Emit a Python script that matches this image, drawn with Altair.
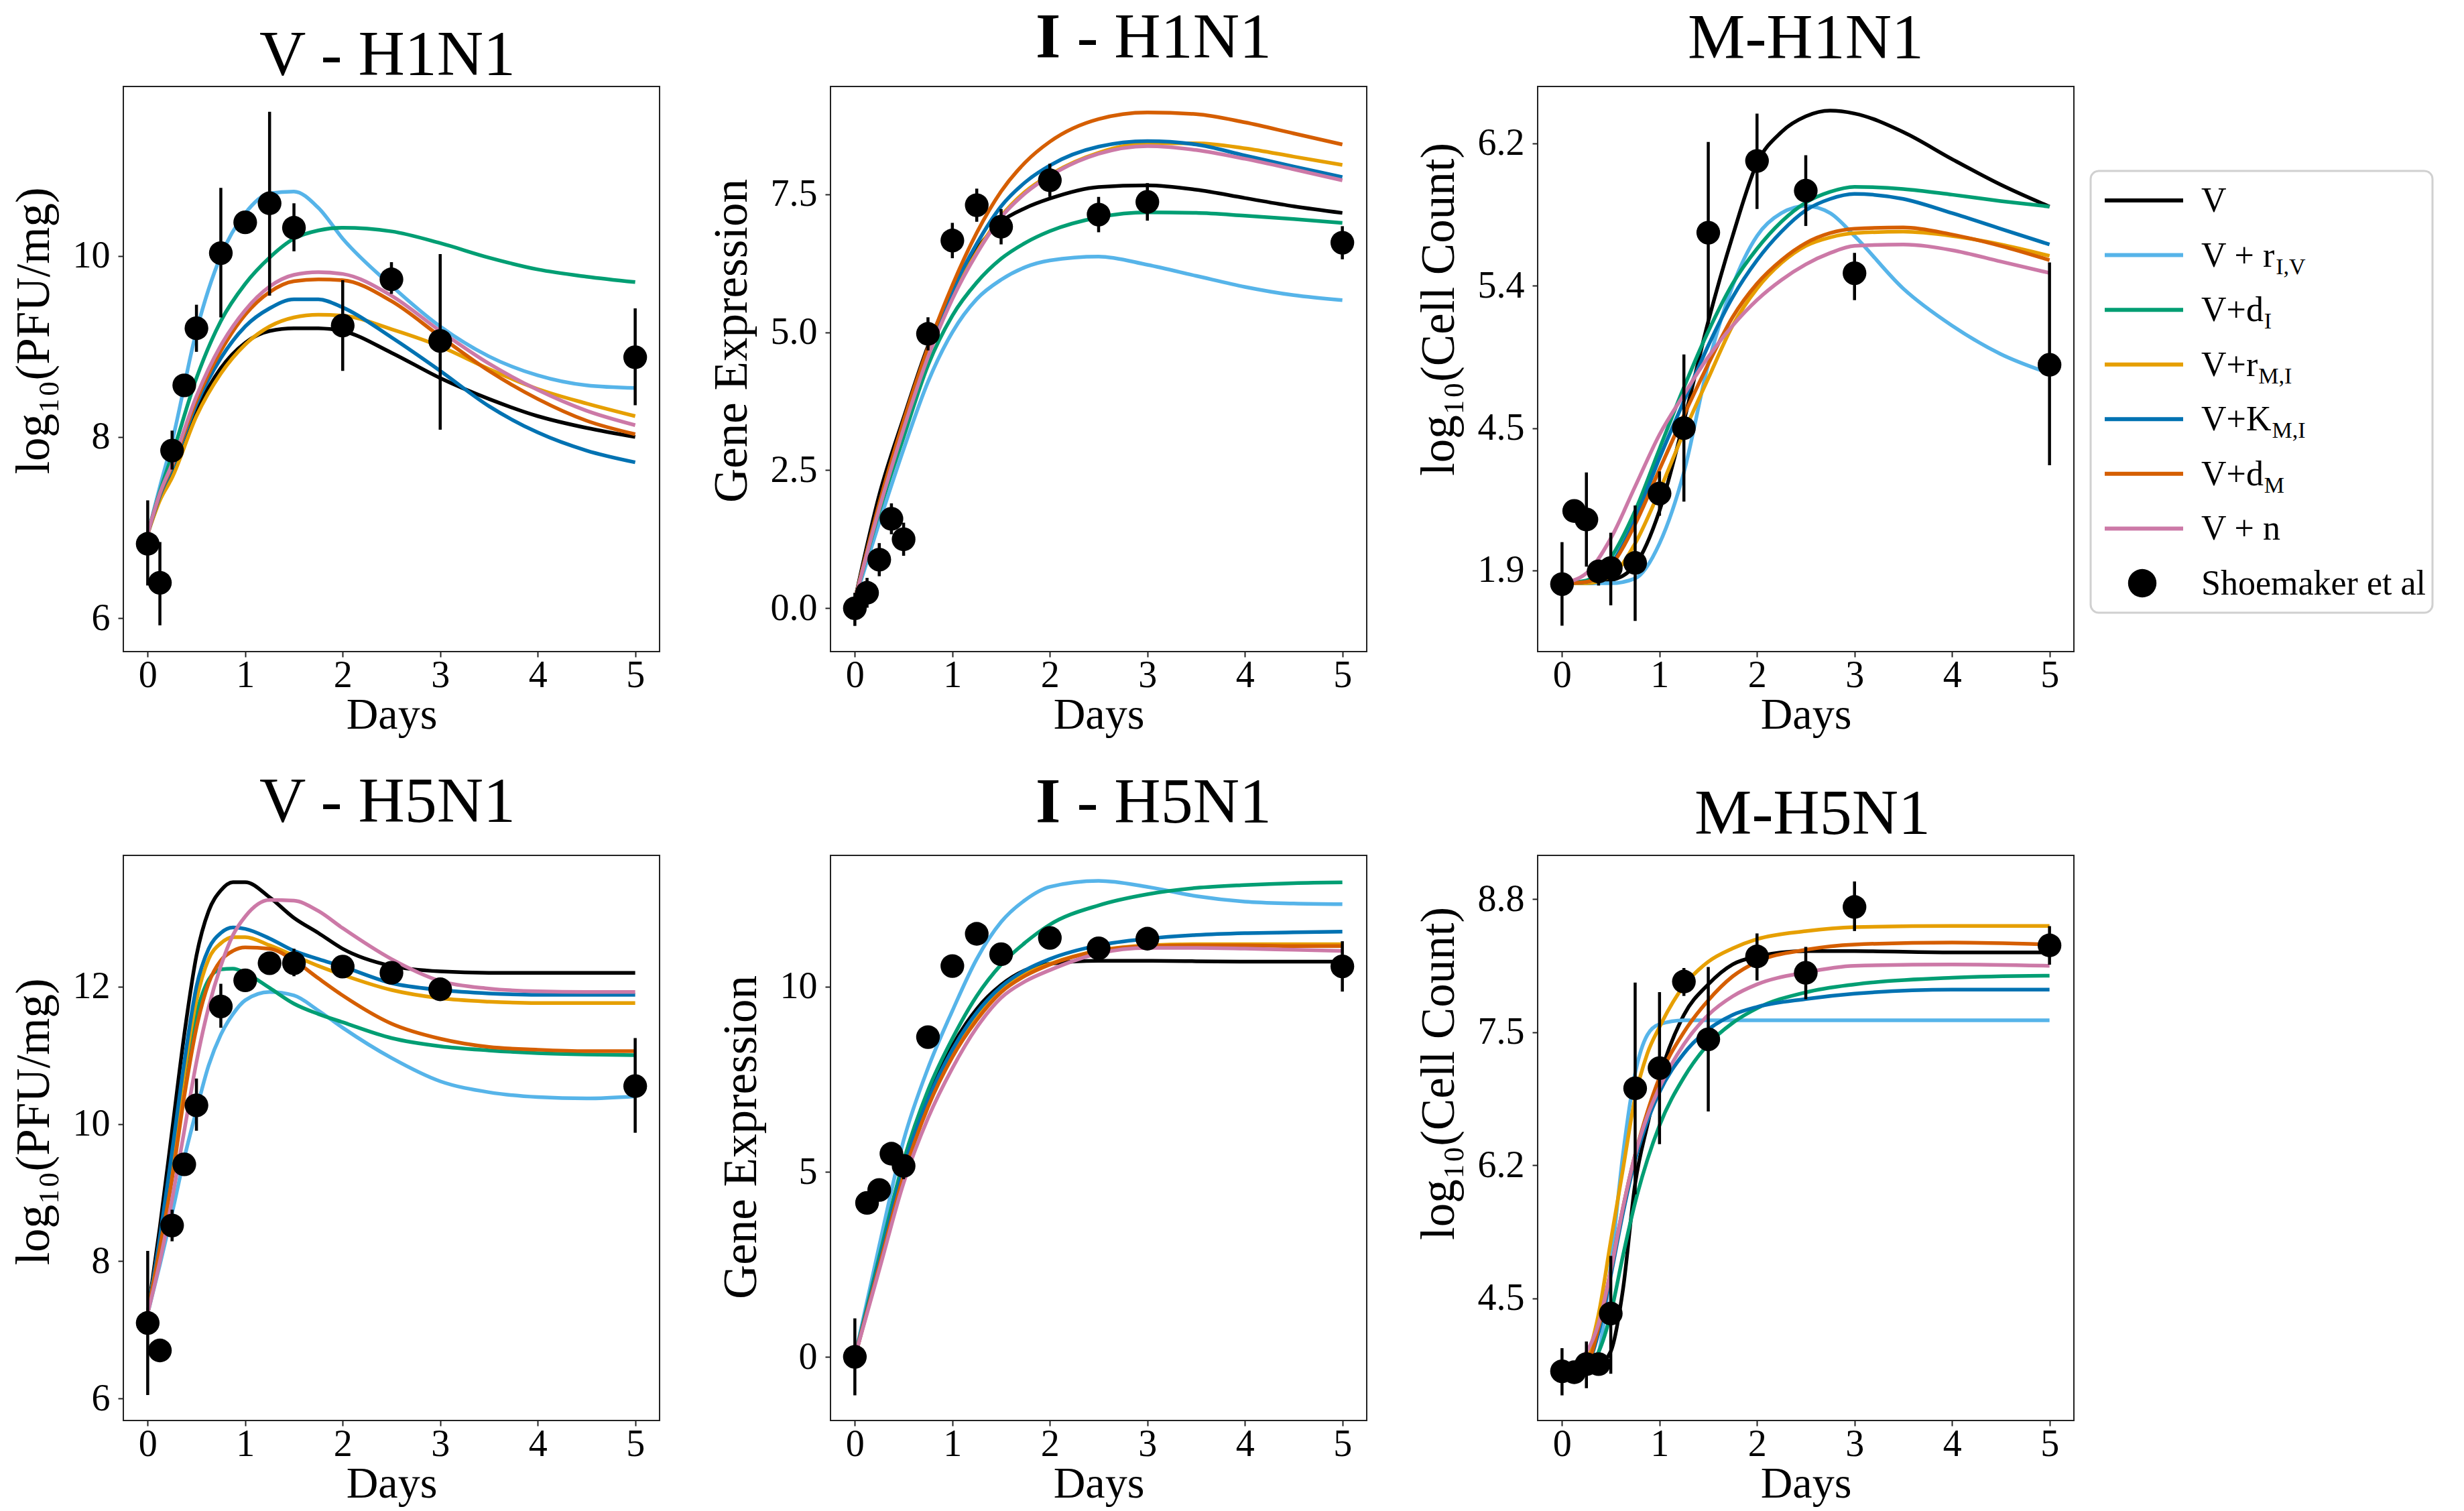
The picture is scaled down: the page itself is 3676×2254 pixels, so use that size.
import altair as alt
import pandas as pd

SERIF = "Liberation Serif"

# ---------------- shared data ----------------
MODELS = ["V", "V + rI,V", "V+dI", "V+rM,I", "V+KM,I", "V+dM", "V + n"]
COLORS = ["#000000", "#56B4E9", "#009E73", "#E69F00", "#0072B2", "#D55E00", "#CC79A7"]
OBS_T = [0, 0.125, 0.25, 0.375, 0.5, 0.75, 1, 1.25, 1.5, 2, 2.5, 3, 5]
X_TICKS = [0, 1, 2, 3, 4, 5]
X_DOMAIN = [-0.25, 5.25]
TITLES = ["V - H1N1", "I - H1N1", "M-H1N1", "V - H5N1", "I - H5N1", "M-H5N1"]
Y_TITLES = ["log\u2081\u2080(PFU/mg)", "Gene Expression", "log\u2081\u2080(Cell Count)"]

# ---------------- V - H1N1 ----------------
V1_T = [0, 0.125, 0.25, 0.5, 0.75, 1, 1.25, 1.5, 1.75, 2, 2.5, 3, 3.5, 4, 4.5, 5]
V1_CURVES = {
    "V":        [6.93, 7.35, 7.62, 8.29, 8.76, 9.04, 9.17, 9.20, 9.20, 9.17, 8.93, 8.65, 8.42, 8.23, 8.10, 8.00],
    "V + rI,V": [6.93, 7.45, 7.95, 9.17, 10.00, 10.47, 10.69, 10.71, 10.53, 10.19, 9.67, 9.22, 8.89, 8.68, 8.57, 8.54],
    "V+dI":     [6.93, 7.40, 7.80, 8.65, 9.28, 9.69, 9.98, 10.19, 10.28, 10.31, 10.27, 10.14, 9.98, 9.85, 9.77, 9.71],
    "V+rM,I":   [6.93, 7.30, 7.55, 8.23, 8.70, 9.02, 9.22, 9.32, 9.35, 9.34, 9.19, 9.00, 8.75, 8.53, 8.37, 8.23],
    "V+KM,I":   [6.93, 7.35, 7.65, 8.36, 8.87, 9.22, 9.42, 9.52, 9.52, 9.43, 9.10, 8.73, 8.34, 8.05, 7.85, 7.72],
    "V+dM":     [6.93, 7.37, 7.68, 8.40, 8.95, 9.35, 9.60, 9.72, 9.74, 9.73, 9.50, 9.11, 8.73, 8.42, 8.18, 8.03],
    "V + n":    [6.93, 7.38, 7.70, 8.45, 9.01, 9.40, 9.66, 9.79, 9.82, 9.80, 9.56, 9.17, 8.81, 8.52, 8.29, 8.13],
}
V1_OBS = [6.82, 6.39, 7.85, 8.57, 9.20, 10.03, 10.37, 10.58, 10.31, 9.23, 9.74, 9.06, 8.88]
V1_LO = [6.36, 5.92, 7.64, 8.47, 8.94, 9.32, 10.37, 9.56, 10.05, 8.73, 9.58, 8.08, 8.35]
V1_HI = [7.30, 6.84, 8.07, 8.67, 9.46, 10.75, 10.37, 11.59, 10.58, 9.73, 9.93, 10.02, 9.42]
V1_YTICKS = [6, 8, 10]
V1_YDOMAIN = [5.63, 11.87]

# ---------------- I - H1N1 ----------------
I1_T = [0, 0.25, 0.5, 0.75, 1, 1.25, 1.5, 1.75, 2, 2.5, 3, 3.5, 4, 4.5, 5]
I1_CURVES = {
    "V":        [0.15, 2.05, 3.45, 4.75, 5.75, 6.50, 7.00, 7.25, 7.42, 7.63, 7.66, 7.58, 7.43, 7.28, 7.16],
    "V + rI,V": [0.15, 1.55, 2.88, 4.10, 5.00, 5.60, 5.95, 6.18, 6.30, 6.37, 6.22, 6.02, 5.82, 5.67, 5.58],
    "V+dI":     [0.15, 1.75, 3.10, 4.40, 5.30, 5.90, 6.33, 6.62, 6.83, 7.08, 7.17, 7.16, 7.11, 7.05, 6.98],
    "V+rM,I":   [0.15, 1.85, 3.30, 4.62, 5.65, 6.45, 7.10, 7.55, 7.85, 8.25, 8.42, 8.42, 8.33, 8.18, 8.03],
    "V+KM,I":   [0.15, 1.88, 3.35, 4.68, 5.75, 6.60, 7.28, 7.72, 8.02, 8.36, 8.46, 8.40, 8.20, 8.00, 7.81],
    "V+dM":     [0.15, 1.90, 3.40, 4.72, 5.85, 6.80, 7.55, 8.08, 8.45, 8.86, 8.98, 8.95, 8.80, 8.60, 8.40],
    "V + n":    [0.15, 1.80, 3.25, 4.55, 5.60, 6.42, 7.08, 7.52, 7.83, 8.23, 8.37, 8.30, 8.14, 7.95, 7.75],
}
I1_OBS = [0.0, 0.28, 0.88, 1.62, 1.25, 4.97, 6.66, 7.30, 6.91, 7.75, 7.13, 7.36, 6.62]
I1_LO = [-0.32, 0.01, 0.58, 1.34, 0.95, 4.67, 6.34, 7.00, 6.59, 7.45, 6.81, 7.02, 6.32]
I1_HI = [0.28, 0.55, 1.18, 1.90, 1.55, 5.27, 6.98, 7.60, 7.23, 8.05, 7.45, 7.70, 6.92]
I1_YTICKS = [0, 2.5, 5, 7.5]
I1_YDOMAIN = [-0.785, 9.45]

# ---------------- M - H1N1 (y in tick-index units; tick k is labelled M1_TICK_LABELS[k]) ----------------
M1_TICK_LABELS = ["1.9", "4.5", "5.4", "6.2"]
M1_T = [0, 0.25, 0.5, 0.75, 1, 1.25, 1.5, 1.75, 2, 2.25, 2.5, 2.75, 3, 3.5, 4, 4.5, 5]
M1_CURVES = {
    "V":        [-0.09, -0.09, -0.07, 0.04, 0.42, 1.05, 1.75, 2.35, 2.86, 3.08, 3.19, 3.23, 3.21, 3.08, 2.89, 2.71, 2.556],
    "V + rI,V": [-0.09, -0.09, -0.09, -0.056, 0.19, 0.69, 1.45, 2.00, 2.35, 2.51, 2.56, 2.51, 2.35, 1.98, 1.72, 1.52, 1.385],
    "V+dI":     [-0.09, -0.07, 0.09, 0.42, 0.855, 1.286, 1.68, 2.015, 2.26, 2.45, 2.585, 2.66, 2.695, 2.68, 2.64, 2.595, 2.556],
    "V+rM,I":   [-0.09, -0.09, -0.04, 0.19, 0.56, 0.97, 1.35, 1.72, 1.98, 2.16, 2.28, 2.34, 2.37, 2.38, 2.35, 2.29, 2.21],
    "V+KM,I":   [-0.09, -0.08, 0.04, 0.36, 0.79, 1.19, 1.58, 1.92, 2.18, 2.38, 2.53, 2.61, 2.645, 2.61, 2.51, 2.40, 2.29],
    "V+dM":     [-0.09, -0.08, 0.03, 0.325, 0.71, 1.09, 1.45, 1.78, 2.015, 2.18, 2.30, 2.37, 2.40, 2.41, 2.36, 2.28, 2.18],
    "V + n":    [-0.09, -0.02, 0.225, 0.59, 0.955, 1.236, 1.50, 1.72, 1.90, 2.04, 2.15, 2.23, 2.28, 2.29, 2.25, 2.17, 2.09],
}
M1_OBS = [-0.096, 0.418, 0.358, -0.007, 0.017, 0.053, 0.540, 1.000, 2.373, 2.877, 2.668, 2.088, 1.445]
M1_LO = [-0.388, 0.418, 0.027, -0.106, -0.245, -0.355, 0.384, 0.484, 1.733, 2.539, 2.420, 1.899, 0.739]
M1_HI = [0.199, 0.418, 0.689, 0.076, 0.265, 0.457, 0.696, 1.518, 3.010, 3.209, 2.917, 2.231, 2.164]
M1_YDOMAIN = [-0.57, 3.40]

# ---------------- V - H5N1 ----------------
V5_T = [0, 0.125, 0.25, 0.375, 0.5, 0.625, 0.75, 0.875, 1, 1.25, 1.5, 1.75, 2, 2.5, 3, 3.5, 4, 4.5, 5]
V5_CURVES = {
    "V":        [7.24, 8.50, 9.90, 11.30, 12.45, 13.10, 13.40, 13.52, 13.52, 13.30, 13.00, 12.78, 12.55, 12.30, 12.22, 12.20, 12.20, 12.20, 12.20],
    "V + rI,V": [7.24, 7.95, 8.70, 9.50, 10.20, 10.85, 11.30, 11.60, 11.80, 11.92, 11.87, 11.65, 11.40, 10.96, 10.62, 10.46, 10.39, 10.37, 10.40],
    "V+dI":     [7.24, 8.30, 9.40, 10.70, 11.60, 12.10, 12.25, 12.26, 12.20, 11.98, 11.75, 11.60, 11.48, 11.25, 11.13, 11.07, 11.03, 11.01, 11.00],
    "V+rM,I":   [7.24, 8.30, 9.45, 10.75, 11.80, 12.40, 12.63, 12.72, 12.72, 12.60, 12.45, 12.30, 12.17, 11.95, 11.83, 11.78, 11.76, 11.76, 11.76],
    "V+KM,I":   [7.24, 8.35, 9.60, 10.90, 12.00, 12.55, 12.78, 12.86, 12.84, 12.70, 12.52, 12.40, 12.29, 12.05, 11.95, 11.90, 11.88, 11.88, 11.88],
    "V+dM":     [7.24, 8.20, 9.20, 10.40, 11.40, 12.05, 12.38, 12.52, 12.57, 12.55, 12.38, 12.12, 11.87, 11.46, 11.24, 11.12, 11.08, 11.06, 11.06],
    "V + n":    [7.24, 8.00, 8.90, 9.90, 10.90, 11.70, 12.30, 12.75, 13.02, 13.26, 13.25, 13.10, 12.85, 12.40, 12.08, 11.97, 11.93, 11.92, 11.92],
}
V5_OBS = [7.10, 6.70, 8.52, 9.41, 10.27, 11.71, 12.09, 12.34, 12.34, 12.29, 12.20, 11.96, 10.55]
V5_LO = [6.05, 6.53, 8.29, 9.41, 9.90, 11.40, 12.09, 12.34, 12.15, 12.29, 12.20, 11.96, 9.87]
V5_HI = [8.15, 6.84, 8.75, 9.41, 10.66, 12.04, 12.09, 12.34, 12.55, 12.29, 12.20, 11.96, 11.25]
V5_YTICKS = [6, 8, 10, 12]
V5_YDOMAIN = [5.68, 13.91]

# ---------------- I - H5N1 ----------------
I5_T = [0, 0.25, 0.5, 0.75, 1, 1.25, 1.5, 1.75, 2, 2.5, 3, 3.5, 4, 4.5, 5]
I5_CURVES = {
    "V":        [0, 2.55, 5.10, 7.00, 8.40, 9.40, 10.05, 10.45, 10.62, 10.70, 10.70, 10.69, 10.68, 10.68, 10.68],
    "V + rI,V": [0, 3.00, 5.85, 7.80, 9.35, 10.75, 11.75, 12.35, 12.70, 12.86, 12.70, 12.45, 12.30, 12.25, 12.23],
    "V+dI":     [0, 2.70, 5.30, 7.20, 8.60, 9.75, 10.60, 11.20, 11.68, 12.20, 12.50, 12.67, 12.75, 12.80, 12.82],
    "V+rM,I":   [0, 2.45, 4.95, 6.80, 8.15, 9.15, 9.90, 10.35, 10.62, 10.98, 11.12, 11.15, 11.15, 11.15, 11.15],
    "V+KM,I":   [0, 2.55, 5.10, 6.95, 8.30, 9.30, 10.00, 10.45, 10.75, 11.12, 11.30, 11.40, 11.45, 11.47, 11.49],
    "V+dM":     [0, 2.45, 4.90, 6.75, 8.10, 9.10, 9.85, 10.30, 10.60, 10.97, 11.10, 11.12, 11.12, 11.10, 11.10],
    "V + n":    [0, 2.35, 4.70, 6.45, 7.80, 8.90, 9.70, 10.15, 10.45, 10.90, 11.05, 11.05, 11.03, 11.00, 10.97],
}
I5_OBS = [0.0, 4.16, 4.51, 5.49, 5.16, 8.64, 10.56, 11.43, 10.88, 11.32, 11.04, 11.30, 10.55]
I5_LO = [-1.04, 4.16, 4.51, 5.49, 4.80, 8.64, 10.56, 11.43, 10.88, 11.32, 11.04, 11.30, 9.87]
I5_HI = [1.04, 4.16, 4.51, 5.49, 5.16, 8.64, 10.56, 11.43, 10.88, 11.32, 11.04, 11.30, 11.23]
I5_YTICKS = [0, 5, 10]
I5_YDOMAIN = [-1.72, 13.55]

# ---------------- M - H5N1 (y in tick-index units; tick k is labelled M5_TICK_LABELS[k]) ----------------
M5_TICK_LABELS = ["4.5", "6.2", "7.5", "8.8"]
M5_T = [0, 0.25, 0.375, 0.5, 0.625, 0.75, 0.875, 1, 1.25, 1.5, 1.75, 2, 2.5, 3, 4, 5]
M5_CURVES = {
    "V":        [-0.55, -0.53, -0.50, -0.40, 0.065, 0.86, 1.30, 1.66, 2.13, 2.36, 2.51, 2.57, 2.61, 2.61, 2.60, 2.60],
    "V + rI,V": [-0.55, -0.53, -0.405, 0.25, 1.08, 1.69, 1.98, 2.06, 2.09, 2.09, 2.09, 2.09, 2.09, 2.09, 2.09, 2.09],
    "V+dI":     [-0.55, -0.52, -0.405, -0.116, 0.32, 0.72, 1.04, 1.30, 1.66, 1.91, 2.07, 2.18, 2.30, 2.36, 2.41, 2.425],
    "V+rM,I":   [-0.55, -0.44, -0.12, 0.43, 0.97, 1.51, 1.84, 2.04, 2.35, 2.53, 2.63, 2.70, 2.76, 2.79, 2.80, 2.80],
    "V+KM,I":   [-0.55, -0.50, -0.26, 0.17, 0.64, 1.04, 1.33, 1.55, 1.84, 2.02, 2.13, 2.19, 2.25, 2.29, 2.32, 2.32],
    "V+dM":     [-0.55, -0.50, -0.22, 0.21, 0.68, 1.08, 1.40, 1.66, 2.00, 2.24, 2.42, 2.53, 2.62, 2.66, 2.675, 2.66],
    "V + n":    [-0.55, -0.405, -0.19, 0.21, 0.68, 1.08, 1.37, 1.585, 1.91, 2.13, 2.27, 2.36, 2.45, 2.50, 2.51, 2.50],
}
M5_OBS = [-0.55, -0.557, -0.496, -0.496, -0.116, 1.578, 1.730, 2.381, 1.947, 2.570, 2.447, 2.942, 2.653]
M5_LO = [-0.731, -0.557, -0.677, -0.496, -0.568, 0.782, 1.158, 2.273, 1.404, 2.389, 2.248, 2.761, 2.508]
M5_HI = [-0.376, -0.557, -0.326, -0.496, 0.318, 2.374, 2.302, 2.483, 2.490, 2.743, 2.642, 3.134, 2.798]
M5_YDOMAIN = [-0.92, 3.33]

# ---------------- legend ----------------
LEGEND_MAIN = ["V", "V + r", "V+d", "V+r", "V+K", "V+d", "V + n", "Shoemaker et al"]
LEGEND_SUB = ["", "I,V", "I", "M,I", "M,I", "M", "", ""]

# ---------------- layout (pixels) ----------------
PANEL_W, PANEL_H = 800, 843
COL_GAP, ROW_GAP = 255, 304
LINE_W = 5.5
PT_SIZE = 1250
TITLE_FONT = 96
# per-panel title: (gap from plot top to text baseline, centre relative to plot left)
TITLE_POS = [(17, 394), (43, 482), (42, 400), (50, 394), (49, 482), (32, 410)]
# legend frame, placed to the right of the M-H1N1 panel (pixels relative to that panel's plot area)
LEG_X0, LEG_X1, LEG_Y0, LEG_Y1 = 825, 1335, 126, 785
LEG_ROW0, LEG_STEP = 170, 81.57
LEG_FONT, SUB_FONT = 52, 34
TIMES_W = {"V": 722, " ": 250, "+": 564, "r": 333, "d": 500, "K": 722, "n": 500,
           "-": 333, "H": 722, "N": 722, "1": 500, "5": 500, "M": 889, "I": 333}
TIMES_BOLD_I = 389


def text_width(s, size):
    return sum(TIMES_W.get(c, 500) for c in s) * size / 1000.0


def label_expr(labels):
    expr = "'" + labels[-1] + "'"
    for k in range(len(labels) - 2, -1, -1):
        expr = "datum.value == %d ? '%s' : (%s)" % (k, labels[k], expr)
    return expr


def text_mark(s, x, y, size, weight="normal", align="left"):
    return alt.Chart(pd.DataFrame({"label": [s]})).mark_text(
        align=align, baseline="alphabetic", font=SERIF, fontSize=size,
        fontWeight=weight, color="black",
    ).encode(x=alt.value(x), y=alt.value(y), text="label:N")


def title_layer(k):
    title = TITLES[k]
    gap, centre = TITLE_POS[k]
    if title.startswith("I "):
        rest = title[2:]
        w_i = TIMES_BOLD_I * TITLE_FONT / 1000.0
        w_sp = text_width(" ", TITLE_FONT)
        total = w_i + w_sp + text_width(rest, TITLE_FONT)
        left = centre - total / 2.0
        return alt.layer(
            text_mark("I", left, -gap, TITLE_FONT, weight="bold"),
            text_mark(rest, left + w_i + w_sp, -gap, TITLE_FONT),
        )
    return text_mark(title, centre, -gap, TITLE_FONT, align="center")


def panel_layers(t_grid, curves, obs, lo, hi, ydomain, yticks, ytitle, ytitle_y,
                 ylabels=None, yfmt=None):
    rows = []
    for m in MODELS:
        for t, v in zip(t_grid, curves[m]):
            rows.append({"t": t, "v": v, "model": m})
    lines_df = pd.DataFrame(rows)
    pts_df = pd.DataFrame({"t": OBS_T, "v": obs, "lo": lo, "hi": hi})

    xaxis = alt.Axis(values=X_TICKS, format="d", title="Days")
    xscale = alt.Scale(domain=X_DOMAIN, nice=False, zero=False)
    ax_kw = dict(values=yticks, title=ytitle, titleY=ytitle_y)
    if ylabels is not None:
        ax_kw["labelExpr"] = label_expr(ylabels)
    if yfmt is not None:
        ax_kw["format"] = yfmt
    yaxis = alt.Axis(**ax_kw)
    yscale = alt.Scale(domain=ydomain, nice=False, zero=False)

    lines = alt.Chart(lines_df).mark_line(strokeWidth=LINE_W, interpolate="monotone").encode(
        x=alt.X("t:Q", scale=xscale, axis=xaxis),
        y=alt.Y("v:Q", scale=yscale, axis=yaxis),
        color=alt.Color("model:N", scale=alt.Scale(domain=MODELS, range=COLORS), legend=None),
    )
    err = alt.Chart(pts_df).mark_rule(strokeWidth=4.5, color="black").encode(
        x=alt.X("t:Q", scale=xscale, axis=xaxis),
        y=alt.Y("lo:Q", scale=yscale, axis=yaxis),
        y2="hi:Q",
    )
    pts = alt.Chart(pts_df).mark_circle(size=PT_SIZE, color="black", opacity=1).encode(
        x=alt.X("t:Q", scale=xscale, axis=xaxis),
        y=alt.Y("v:Q", scale=yscale, axis=yaxis),
    )
    return alt.layer(lines, err, pts)


def legend_layers():
    ydom0 = -LEG_ROW0 / LEG_STEP
    ydom1 = ydom0 + PANEL_H / LEG_STEP
    yleg = alt.Y("row:Q", scale=alt.Scale(domain=[ydom0, ydom1], reverse=True, nice=False, zero=False),
                 axis=None)
    rows = list(range(len(LEGEND_MAIN)))
    frame = alt.Chart(pd.DataFrame({"k": [0]})).mark_rect(
        fill="white", stroke="#d0d0d0", strokeWidth=3, cornerRadius=12
    ).encode(x=alt.value(LEG_X0), x2=alt.value(LEG_X1), y=alt.value(LEG_Y0), y2=alt.value(LEG_Y1))
    rules = alt.Chart(pd.DataFrame({"row": rows[:len(MODELS)], "model": MODELS})).mark_rule(
        strokeWidth=6).encode(
        x=alt.value(LEG_X0 + 21), x2=alt.value(LEG_X0 + 138), y=yleg,
        color=alt.Color("model:N", scale=alt.Scale(domain=MODELS, range=COLORS), legend=None),
    )
    dot = alt.Chart(pd.DataFrame({"row": [rows[-1]]})).mark_circle(
        size=1800, color="black", opacity=1).encode(x=alt.value(LEG_X0 + 77), y=yleg)
    text = alt.Chart(pd.DataFrame({"row": rows, "main": LEGEND_MAIN})).mark_text(
        align="left", baseline="alphabetic", dy=17, font=SERIF, fontSize=LEG_FONT, color="black"
    ).encode(x=alt.value(LEG_X0 + 165), y=yleg, text="main:N")
    layers = [frame, rules, dot, text]
    for r, (main, sub) in enumerate(zip(LEGEND_MAIN, LEGEND_SUB)):
        if not sub:
            continue
        layers.append(
            alt.Chart(pd.DataFrame({"row": [r], "sub": [sub]})).mark_text(
                align="left", baseline="alphabetic", dy=28, font=SERIF, fontSize=SUB_FONT, color="black"
            ).encode(x=alt.value(LEG_X0 + 165 + text_width(main, LEG_FONT) + 1), y=yleg, text="sub:N")
        )
    return alt.layer(*layers)


p1 = panel_layers(V1_T, V1_CURVES, V1_OBS, V1_LO, V1_HI, V1_YDOMAIN, V1_YTICKS, Y_TITLES[0], 364)
p2 = panel_layers(I1_T, I1_CURVES, I1_OBS, I1_LO, I1_HI, I1_YDOMAIN, I1_YTICKS, Y_TITLES[1], 379,
                  yfmt=".1f")
p3 = panel_layers(M1_T, M1_CURVES, M1_OBS, M1_LO, M1_HI, M1_YDOMAIN, [0, 1, 2, 3], Y_TITLES[2], 332,
                  ylabels=M1_TICK_LABELS)
p4 = panel_layers(V5_T, V5_CURVES, V5_OBS, V5_LO, V5_HI, V5_YDOMAIN, V5_YTICKS, Y_TITLES[0], 397)
p5 = panel_layers(I5_T, I5_CURVES, I5_OBS, I5_LO, I5_HI, I5_YDOMAIN, I5_YTICKS, Y_TITLES[1], 420)
p6 = panel_layers(M5_T, M5_CURVES, M5_OBS, M5_LO, M5_HI, M5_YDOMAIN, [0, 1, 2, 3], Y_TITLES[2], 325,
                  ylabels=M5_TICK_LABELS)

c1 = alt.layer(p1, title_layer(0)).properties(width=PANEL_W, height=PANEL_H)
c2 = alt.layer(p2, title_layer(1)).properties(width=PANEL_W, height=PANEL_H)
c3 = alt.layer(p3, legend_layers(), title_layer(2)).resolve_scale(y="independent").properties(
    width=PANEL_W, height=PANEL_H)
c4 = alt.layer(p4, title_layer(3)).properties(width=PANEL_W, height=PANEL_H)
c5 = alt.layer(p5, title_layer(4)).properties(width=PANEL_W, height=PANEL_H)
c6 = alt.layer(p6, title_layer(5)).properties(width=PANEL_W, height=PANEL_H)

chart = alt.concat(
    c1, c2, c3, c4, c5, c6, columns=3,
    spacing={"row": ROW_GAP, "column": COL_GAP}, bounds="flush",
).properties(
    padding={"left": 14, "top": 8, "right": 10, "bottom": 4},
    background="white",
).configure(font=SERIF).configure_axis(
    labelFont=SERIF, labelFontSize=56, labelColor="black",
    titleFont=SERIF, titleFontSize=71, titleFontWeight="normal", titleColor="black",
    tickSize=8, tickWidth=2, tickColor="#222222",
    domain=False, grid=False, labelFlush=False, labelOverlap=False,
).configure_axisX(
    labelPadding=0, titlePadding=51, titleBaseline="alphabetic", titleFontSize=66,
).configure_axisY(
    labelPadding=12, titlePadding=36, titleBaseline="alphabetic",
).configure_view(stroke="#222222", strokeWidth=2)

chart.save("out.html", embed_options={"renderer": "svg", "actions": False})
